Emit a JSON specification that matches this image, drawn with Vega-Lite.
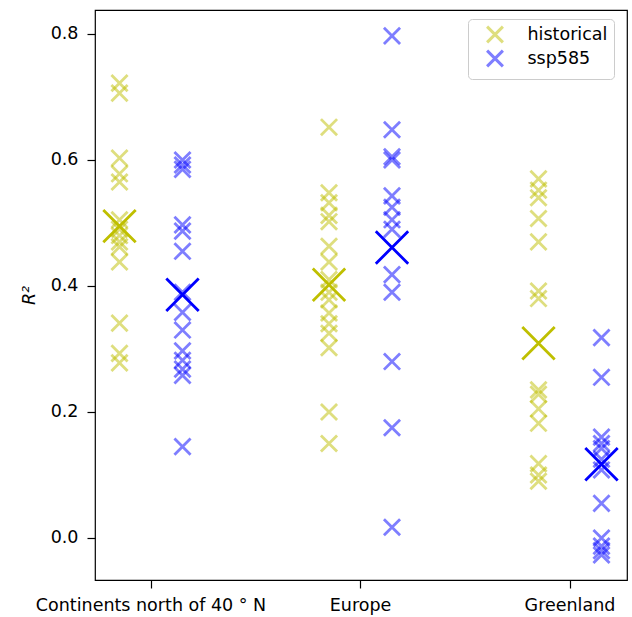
{
  "$schema": "https://vega.github.io/schema/vega-lite/v6.json",
  "width": 532,
  "height": 570,
  "autosize": "none",
  "padding": {"left": 95, "top": 10, "right": 5, "bottom": 37},
  "background": "white",
  "config": {
    "font": "DejaVu Sans",
    "view": {"stroke": "black", "strokeWidth": 1.2},
    "axis": {"labelFont": "DejaVu Sans", "labelFontSize": 17.5, "labelColor": "black", "tickColor": "black", "tickSize": 8, "tickWidth": 1.2, "grid": false, "domain": false, "titleFont": "DejaVu Sans", "titleFontWeight": "normal", "titleColor": "black"}
  },
  "datasets": {
    "models": [
      {"region": "Continents north of 40 ° N", "experiment": "historical", "r2": 0.722},
      {"region": "Continents north of 40 ° N", "experiment": "historical", "r2": 0.706},
      {"region": "Continents north of 40 ° N", "experiment": "historical", "r2": 0.603},
      {"region": "Continents north of 40 ° N", "experiment": "historical", "r2": 0.578},
      {"region": "Continents north of 40 ° N", "experiment": "historical", "r2": 0.565},
      {"region": "Continents north of 40 ° N", "experiment": "historical", "r2": 0.505},
      {"region": "Continents north of 40 ° N", "experiment": "historical", "r2": 0.49},
      {"region": "Continents north of 40 ° N", "experiment": "historical", "r2": 0.48},
      {"region": "Continents north of 40 ° N", "experiment": "historical", "r2": 0.47},
      {"region": "Continents north of 40 ° N", "experiment": "historical", "r2": 0.462},
      {"region": "Continents north of 40 ° N", "experiment": "historical", "r2": 0.438},
      {"region": "Continents north of 40 ° N", "experiment": "historical", "r2": 0.341},
      {"region": "Continents north of 40 ° N", "experiment": "historical", "r2": 0.293},
      {"region": "Continents north of 40 ° N", "experiment": "historical", "r2": 0.278},
      {"region": "Continents north of 40 ° N", "experiment": "ssp585", "r2": 0.6},
      {"region": "Continents north of 40 ° N", "experiment": "ssp585", "r2": 0.592},
      {"region": "Continents north of 40 ° N", "experiment": "ssp585", "r2": 0.585},
      {"region": "Continents north of 40 ° N", "experiment": "ssp585", "r2": 0.497},
      {"region": "Continents north of 40 ° N", "experiment": "ssp585", "r2": 0.487},
      {"region": "Continents north of 40 ° N", "experiment": "ssp585", "r2": 0.455},
      {"region": "Continents north of 40 ° N", "experiment": "ssp585", "r2": 0.39},
      {"region": "Continents north of 40 ° N", "experiment": "ssp585", "r2": 0.358},
      {"region": "Continents north of 40 ° N", "experiment": "ssp585", "r2": 0.33},
      {"region": "Continents north of 40 ° N", "experiment": "ssp585", "r2": 0.297},
      {"region": "Continents north of 40 ° N", "experiment": "ssp585", "r2": 0.282},
      {"region": "Continents north of 40 ° N", "experiment": "ssp585", "r2": 0.268},
      {"region": "Continents north of 40 ° N", "experiment": "ssp585", "r2": 0.258},
      {"region": "Continents north of 40 ° N", "experiment": "ssp585", "r2": 0.145},
      {"region": "Europe", "experiment": "historical", "r2": 0.652},
      {"region": "Europe", "experiment": "historical", "r2": 0.548},
      {"region": "Europe", "experiment": "historical", "r2": 0.532},
      {"region": "Europe", "experiment": "historical", "r2": 0.512},
      {"region": "Europe", "experiment": "historical", "r2": 0.502},
      {"region": "Europe", "experiment": "historical", "r2": 0.463},
      {"region": "Europe", "experiment": "historical", "r2": 0.438},
      {"region": "Europe", "experiment": "historical", "r2": 0.41},
      {"region": "Europe", "experiment": "historical", "r2": 0.39},
      {"region": "Europe", "experiment": "historical", "r2": 0.378},
      {"region": "Europe", "experiment": "historical", "r2": 0.357},
      {"region": "Europe", "experiment": "historical", "r2": 0.34},
      {"region": "Europe", "experiment": "historical", "r2": 0.325},
      {"region": "Europe", "experiment": "historical", "r2": 0.302},
      {"region": "Europe", "experiment": "historical", "r2": 0.2},
      {"region": "Europe", "experiment": "historical", "r2": 0.15},
      {"region": "Europe", "experiment": "ssp585", "r2": 0.797},
      {"region": "Europe", "experiment": "ssp585", "r2": 0.648},
      {"region": "Europe", "experiment": "ssp585", "r2": 0.605},
      {"region": "Europe", "experiment": "ssp585", "r2": 0.6},
      {"region": "Europe", "experiment": "ssp585", "r2": 0.543},
      {"region": "Europe", "experiment": "ssp585", "r2": 0.525},
      {"region": "Europe", "experiment": "ssp585", "r2": 0.505},
      {"region": "Europe", "experiment": "ssp585", "r2": 0.49},
      {"region": "Europe", "experiment": "ssp585", "r2": 0.418},
      {"region": "Europe", "experiment": "ssp585", "r2": 0.39},
      {"region": "Europe", "experiment": "ssp585", "r2": 0.28},
      {"region": "Europe", "experiment": "ssp585", "r2": 0.175},
      {"region": "Europe", "experiment": "ssp585", "r2": 0.017},
      {"region": "Greenland", "experiment": "historical", "r2": 0.57},
      {"region": "Greenland", "experiment": "historical", "r2": 0.552},
      {"region": "Greenland", "experiment": "historical", "r2": 0.54},
      {"region": "Greenland", "experiment": "historical", "r2": 0.507},
      {"region": "Greenland", "experiment": "historical", "r2": 0.47},
      {"region": "Greenland", "experiment": "historical", "r2": 0.392},
      {"region": "Greenland", "experiment": "historical", "r2": 0.38},
      {"region": "Greenland", "experiment": "historical", "r2": 0.235},
      {"region": "Greenland", "experiment": "historical", "r2": 0.228},
      {"region": "Greenland", "experiment": "historical", "r2": 0.205},
      {"region": "Greenland", "experiment": "historical", "r2": 0.182},
      {"region": "Greenland", "experiment": "historical", "r2": 0.118},
      {"region": "Greenland", "experiment": "historical", "r2": 0.1},
      {"region": "Greenland", "experiment": "historical", "r2": 0.09},
      {"region": "Greenland", "experiment": "ssp585", "r2": 0.318},
      {"region": "Greenland", "experiment": "ssp585", "r2": 0.255},
      {"region": "Greenland", "experiment": "ssp585", "r2": 0.16},
      {"region": "Greenland", "experiment": "ssp585", "r2": 0.15},
      {"region": "Greenland", "experiment": "ssp585", "r2": 0.142},
      {"region": "Greenland", "experiment": "ssp585", "r2": 0.125},
      {"region": "Greenland", "experiment": "ssp585", "r2": 0.108},
      {"region": "Greenland", "experiment": "ssp585", "r2": 0.055},
      {"region": "Greenland", "experiment": "ssp585", "r2": 0.0},
      {"region": "Greenland", "experiment": "ssp585", "r2": -0.013},
      {"region": "Greenland", "experiment": "ssp585", "r2": -0.02},
      {"region": "Greenland", "experiment": "ssp585", "r2": -0.027}
    ],
    "means": [
      {"region": "Continents north of 40 ° N", "experiment": "historical", "r2": 0.495},
      {"region": "Continents north of 40 ° N", "experiment": "ssp585", "r2": 0.386},
      {"region": "Europe", "experiment": "historical", "r2": 0.402},
      {"region": "Europe", "experiment": "ssp585", "r2": 0.461},
      {"region": "Greenland", "experiment": "historical", "r2": 0.309},
      {"region": "Greenland", "experiment": "ssp585", "r2": 0.117}
    ]
  },
  "encoding": {
    "x": {
      "field": "region", "type": "nominal",
      "sort": ["Continents north of 40 ° N", "Europe", "Greenland"],
      "scale": {"type": "band", "range": [-48.75, 579.75], "paddingInner": 0, "paddingOuter": 0},
      "axis": {"title": null, "labelAngle": 0, "labelPadding": 8, "labelLimit": 400}
    },
    "xOffset": {
      "field": "experiment", "type": "nominal",
      "sort": ["historical", "ssp585"],
      "scale": {"type": "point", "range": [73.25, 136.25], "padding": 0}
    },
    "y": {
      "field": "r2", "type": "quantitative",
      "scale": {"domain": [-0.0667, 0.838], "nice": false, "zero": false},
      "axis": {"values": [0, 0.2, 0.4, 0.6, 0.8], "format": ".1f", "title": "R²", "titleFontStyle": "italic", "titleFontSize": 17.5, "titlePadding": 12, "labelPadding": 9}
    },
    "color": {
      "field": "experiment", "type": "nominal",
      "scale": {"domain": ["historical", "ssp585"], "range": ["#bfbf00", "#0000ff"]},
      "legend": {
        "title": null, "orient": "none", "legendX": 373, "legendY": 9,
        "symbolType": "M-1,-1L1,1M1,-1L-1,1", "symbolSize": 250, "symbolStrokeWidth": 3,
        "symbolOpacity": 0.5, "symbolFillColor": "transparent",
        "labelFontSize": 17.5, "labelFont": "DejaVu Sans", "labelColor": "black",
        "labelOffset": 23, "rowPadding": -5, "padding": 6, "symbolOffset": 11.5,
        "strokeColor": "#cccccc", "cornerRadius": 4, "fillColor": "white"
      }
    }
  },
  "layer": [
    {
      "data": {"name": "models"},
      "mark": {"type": "point", "shape": "M-1,-1L1,1M1,-1L-1,1", "filled": false, "size": 260, "strokeWidth": 2.8, "opacity": 0.5}
    },
    {
      "data": {"name": "means"},
      "mark": {"type": "point", "shape": "M-1,-1L1,1M1,-1L-1,1", "filled": false, "size": 1050, "strokeWidth": 2.8, "opacity": 1}
    }
  ]
}
